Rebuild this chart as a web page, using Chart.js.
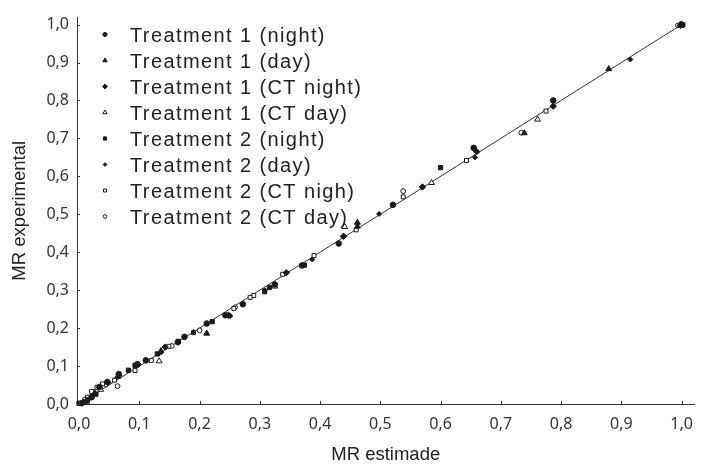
<!DOCTYPE html>
<html>
<head>
<meta charset="utf-8">
<title>MR experimental vs MR estimade</title>
<script src="https://cdn.jsdelivr.net/npm/chart.js@4.4.1/dist/chart.umd.min.js"></script>
<style>
    html, body { margin: 0; padding: 0; background: #fff; }
    #wrap { width: 704px; height: 466px; }
</style>
</head>
<body>
<div id="wrap"><canvas id="mrChart" width="704" height="466"></canvas></div>
<script>
// legend names, same order as the series below
const seriesNames = [
    'Treatment 1 (night)',
    'Treatment 1 (day)',
    'Treatment 1 (CT night)',
    'Treatment 1 (CT day)',
    'Treatment 2 (night)',
    'Treatment 2 (day)',
    'Treatment 2 (CT nigh)',
    'Treatment 2 (CT day)'
];

// [MR estimade, MR experimental]
const t1Night = [[1.0, 1.0], [0.787, 0.80], [0.655, 0.675], [0.521, 0.525], [0.431, 0.423], [0.37, 0.365],
    [0.325, 0.315], [0.272, 0.263], [0.243, 0.234], [0.212, 0.212], [0.175, 0.177], [0.164, 0.163],
    [0.111, 0.115], [0.097, 0.105], [0.066, 0.079], [0.047, 0.058], [0.034, 0.045], [0.021, 0.018], [0.004, 0.002]];
const t1Day = [[1.0, 1.0], [0.879, 0.883], [0.739, 0.714], [0.462, 0.478], [0.462, 0.468], [0.212, 0.186],
    [0.136, 0.14], [0.064, 0.072], [0.026, 0.029], [0.007, 0.003]];
const t1CtNight = [[0.998, 0.998], [0.787, 0.785], [0.66, 0.665], [0.57, 0.572], [0.439, 0.442], [0.344, 0.346],
    [0.248, 0.234], [0.143, 0.15], [0.098, 0.104], [0.048, 0.057], [0.014, 0.01]];
const t1CtDay = [[0.998, 1.0], [0.761, 0.75], [0.585, 0.583], [0.441, 0.467], [0.325, 0.31], [0.133, 0.113],
    [0.036, 0.038], [0.008, 0.004]];
const t2Night = [[1.002, 0.999], [0.60, 0.623], [0.374, 0.366], [0.316, 0.307], [0.308, 0.296], [0.221, 0.217],
    [0.165, 0.165], [0.13, 0.132], [0.093, 0.102], [0.082, 0.089], [0.028, 0.026], [0.0, 0.002]];
const t2Day = [[0.915, 0.908], [0.657, 0.65], [0.498, 0.501], [0.387, 0.381], [0.308, 0.3], [0.251, 0.232],
    [0.19, 0.19], [0.136, 0.136], [0.067, 0.075], [0.021, 0.02]];
const t2CtNight = [[1.0, 0.998], [0.775, 0.772], [0.643, 0.642], [0.538, 0.546], [0.46, 0.459], [0.39, 0.391],
    [0.338, 0.342], [0.29, 0.286], [0.284, 0.281], [0.257, 0.252], [0.19, 0.188], [0.149, 0.152],
    [0.12, 0.115], [0.093, 0.088], [0.059, 0.063], [0.039, 0.053], [0.03, 0.044], [0.021, 0.033],
    [0.014, 0.018], [0.014, 0.005]];
const t2CtDay = [[0.994, 0.998], [0.734, 0.715], [0.538, 0.561], [0.259, 0.255], [0.2, 0.194], [0.154, 0.153],
    [0.064, 0.047], [0.045, 0.052], [0.01, 0.012]];

// the 1:1 line
const fitLine = [[0, 0], [1.003, 1.003]];

const tickValues = [0, 0.1, 0.2, 0.3, 0.4, 0.5, 0.6, 0.7, 0.8, 0.9, 1.0];
const tickLabels = ['0,0', '0,1', '0,2', '0,3', '0,4', '0,5', '0,6', '0,7', '0,8', '0,9', '1,0'];

const ink = '#1a1a1a';
const textClr = '#222';
const sansFont = '"Liberation Sans", Arial, sans-serif';

// marker look per series: [pointStyle, radius, open?]
const markers = [
    ['circle', 2.8, false],
    ['triangle', 3.4, false],
    ['rectRot', 3.2, false],
    ['triangle', 3.4, true],
    ['rect', 3, false],
    ['rectRot', 2.5, false],
    ['rect', 2.8, true],
    ['circle', 2.4, true]
];

const allSeries = [t1Night, t1Day, t1CtNight, t1CtDay, t2Night, t2Day, t2CtNight, t2CtDay];
const toXY = arr => arr.map(p => ({ x: p[0], y: p[1] }));

const datasets = allSeries.map((s, i) => ({
    label: seriesNames[i],
    data: toXY(s),
    pointStyle: markers[i][0],
    pointRadius: markers[i][1],
    pointHoverRadius: markers[i][1],
    backgroundColor: markers[i][2] ? '#fff' : ink,
    borderColor: ink,
    pointBorderWidth: 1,
    showLine: false,
    clip: false
}));
datasets.push({
    label: 'fit',
    data: toXY(fitLine),
    showLine: true,
    borderColor: '#333',
    borderWidth: 1,
    pointRadius: 0,
    clip: false,
    order: 10
});

// legend drawn inside the plot, with the wide letter spacing of the original
const insideLegend = {
    id: 'insideLegend',
    afterDraw(chart) {
        const ctx = chart.ctx;
        ctx.save();
        seriesNames.forEach((name, i) => {
            const ds = chart.data.datasets[i];
            const y = 34.5 + i * 26;
            ctx.fillStyle = ds.backgroundColor;
            ctx.strokeStyle = ds.borderColor;
            ctx.lineWidth = 1;
            Chart.helpers.drawPoint(ctx, {
                pointStyle: ds.pointStyle, radius: ds.pointRadius * 0.75, borderWidth: 1, rotation: 0
            }, 105, y);
            ctx.font = '20px ' + sansFont;
            ctx.letterSpacing = '1.4px';
            ctx.fillStyle = textClr;
            ctx.textAlign = 'left';
            ctx.textBaseline = 'alphabetic';
            ctx.fillText(name, 130, y + 7);
        });
        ctx.restore();
    }
};

// small tick marks pointing into the plot
const innerTicks = {
    id: 'innerTicks',
    afterDraw(chart) {
        const ctx = chart.ctx;
        const xs = chart.scales.x, ys = chart.scales.y;
        ctx.save();
        ctx.strokeStyle = '#333';
        ctx.lineWidth = 1;
        ctx.beginPath();
        tickValues.forEach(v => {
            const px = Math.round(xs.getPixelForValue(v)) + 0.5;
            ctx.moveTo(px, ys.bottom);
            ctx.lineTo(px, ys.bottom - 3);
            const py = Math.round(ys.getPixelForValue(v)) + 0.5;
            ctx.moveTo(xs.left, py);
            ctx.lineTo(xs.left + 3, py);
        });
        ctx.stroke();
        ctx.restore();
    }
};

const setTicks = scale => { scale.ticks = tickValues.map(v => ({ value: v })); };

const config = {
    type: 'scatter',
    data: { datasets: datasets },
    options: {
        responsive: false,
        animation: false,
        layout: { padding: { top: 17, right: 2, left: 0, bottom: 0 } },
        plugins: {
            legend: { display: false },
            tooltip: { enabled: false }
        },
        scales: {
            x: {
                type: 'linear',
                min: -0.0033,
                max: 1.0213,
                afterBuildTicks: setTicks,
                afterFit: s => { s.height = 62; },
                grid: { display: false, drawTicks: false, tickLength: 0 },
                border: { display: true, color: '#333', width: 1 },
                ticks: {
                    autoSkip: false,
                    maxRotation: 0,
                    padding: 11,
                    color: '#333',
                    font: { family: '"Noto Sans"', size: 16 },
                    callback: (v, i) => tickLabels[i]
                },
                title: {
                    display: true,
                    text: 'MR estimade',
                    color: textClr,
                    font: { family: sansFont, size: 18.5 },
                    padding: { top: 0, bottom: 0 }
                }
            },
            y: {
                type: 'linear',
                min: 0,
                max: 1.0184,
                afterBuildTicks: setTicks,
                afterFit: s => { s.width = 77; },
                grid: { display: false, drawTicks: false, tickLength: 0 },
                border: { display: true, color: '#333', width: 1 },
                ticks: {
                    autoSkip: false,
                    padding: 8,
                    color: '#333',
                    font: { family: '"Noto Sans"', size: 16 },
                    callback: (v, i) => tickLabels[i]
                },
                title: {
                    display: true,
                    text: 'MR experimental',
                    color: textClr,
                    font: { family: sansFont, size: 18.5 },
                    padding: { top: 9, bottom: 0 }
                }
            }
        }
    },
    plugins: [insideLegend, innerTicks]
};

new Chart(document.getElementById('mrChart'), config);
</script>
</body>
</html>
